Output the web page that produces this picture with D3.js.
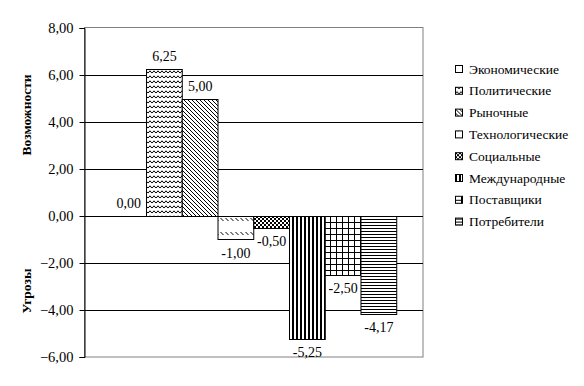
<!DOCTYPE html>
<html><head><meta charset="utf-8">
<script src="https://cdn.jsdelivr.net/npm/d3@7"></script>
<style>body{margin:0;background:#fff}</style>
</head><body>
<svg id="c" width="584" height="386"></svg>
<script>
const categories = ["Экономические","Политические","Рыночные","Технологические","Социальные","Международные","Поставщики","Потребители"];
const values = [0.00, 6.25, 5.00, -1.00, -0.50, -5.25, -2.50, -4.17];
const labels = ["0,00","6,25","5,00","-1,00","-0,50","-5,25","-2,50","-4,17"];
const yTicks = [8,6,4,2,0,-2,-4,-6];
const patternIds = ["p0","p1","p2","p3","p4","p5","p6","p7"];

const svg = d3.select("#c");
const font = "'Liberation Serif','Times New Roman',serif";
const L = 84.5, R = 423, T = 28, B = 357;
const y = d3.scaleLinear().domain([-6,8]).range([B,T]);
const x = d3.scaleBand().domain(categories).range([L,R]).paddingInner(0).paddingOuter(0.735);

// patterns
const defs = svg.append("defs");
function pat(id,w,h){return defs.append("pattern").attr("id",id).attr("patternUnits","userSpaceOnUse").attr("width",w).attr("height",h);}
pat("p0",4,4).append("rect").attr("width",4).attr("height",4).attr("fill","#fff");
{const p=pat("p1",4,5);p.append("rect").attr("width",4).attr("height",5).attr("fill","#fff");
 p.append("path").attr("d","M0,3.2 L2,0.8 L4,3.2").attr("fill","none").attr("stroke","#000").attr("stroke-width",1);}
{const p=pat("p2",4,4);p.append("rect").attr("width",4).attr("height",4).attr("fill","#fff");
 p.append("path").attr("d","M-1,-1 L5,5 M-1,3 L1,5 M3,-1 L5,1").attr("stroke","#000").attr("stroke-width",1);}
{const p=pat("p3",5,14);p.append("rect").attr("width",5).attr("height",14).attr("fill","#fff");
 p.append("path").attr("d","M0.5,8 L3.5,11").attr("stroke","#000").attr("stroke-width",1);}
{const p=pat("p4",4,4);p.append("rect").attr("width",4).attr("height",4).attr("fill","#fff");
 p.append("rect").attr("width",2).attr("height",2).attr("fill","#000");
 p.append("rect").attr("x",2).attr("y",2).attr("width",2).attr("height",2).attr("fill","#000");}
{const p=pat("p5",4,4);p.append("rect").attr("width",4).attr("height",4).attr("fill","#fff");
 p.append("rect").attr("width",2).attr("height",4).attr("fill","#000");}
{const p=pat("p6",6,6);p.append("rect").attr("width",6).attr("height",6).attr("fill","#fff");
 p.append("path").attr("d","M0,0.5 H6 M0.5,0 V6").attr("stroke","#000").attr("stroke-width",1);}
{const p=pat("p7",3,3);p.append("rect").attr("width",3).attr("height",3).attr("fill","#fff");
 p.append("path").attr("d","M0,0.5 H3").attr("stroke","#000").attr("stroke-width",1);}

// plot frame
svg.append("rect").attr("x",L).attr("y",T-0.5).attr("width",R-L).attr("height",B-T+0.5)
  .attr("fill","none").attr("stroke","#808080").attr("stroke-width",1);
// gridlines
svg.append("g").selectAll("line").data(yTicks.filter(d=>d!==8 && d!==-6)).join("line")
  .attr("x1",L).attr("x2",R).attr("y1",d=>Math.round(y(d))+0.5).attr("y2",d=>Math.round(y(d))+0.5)
  .attr("stroke","#000").attr("stroke-width",1);

// bars
svg.append("g").selectAll("rect").data(values).join("rect")
  .attr("x",(d,i)=>x(categories[i]))
  .attr("width",x.bandwidth())
  .attr("y",d=>Math.round(y(Math.max(0,d)))+0.5)
  .attr("height",d=>Math.abs(Math.round(y(d))-Math.round(y(0))))
  .attr("fill",(d,i)=>`url(#${patternIds[i]})`)
  .attr("stroke","#000").attr("stroke-width",1);

// y axis
const ax = svg.append("g").attr("transform",`translate(${L},0)`)
  .call(d3.axisLeft(y).tickValues(yTicks).tickSize(5).tickFormat(d=>d3.format(".2f")(d).replace(".",",")));
ax.select(".domain").attr("stroke","#000");
ax.selectAll(".tick line").attr("stroke","#000");
ax.selectAll("text").attr("font-family",font).attr("font-size",14.5).attr("fill","#000").attr("x",-11);

// value labels
svg.append("g").selectAll("text").data(values).join("text")
  .attr("x",(d,i)=>x(categories[i])+x.bandwidth()/2)
  .attr("y",(d,i)=> d>=0 ? y(d)-8 : y(d)+18)
  .attr("text-anchor","middle").attr("font-family",font).attr("font-size",14).attr("fill","#000")
  .text((d,i)=>labels[i]);

// axis titles
svg.append("text").attr("transform","translate(31,115) rotate(-90)").attr("text-anchor","middle")
  .attr("font-family",font).attr("font-size",13.5).attr("font-weight","bold").text("Возможности");
svg.append("text").attr("transform","translate(31,291) rotate(-90)").attr("text-anchor","middle")
  .attr("font-family",font).attr("font-size",13.5).attr("font-weight","bold").text("Угрозы");

// legend
const lg = svg.append("g").selectAll("g").data(categories).join("g")
  .attr("transform",(d,i)=>`translate(455,${69+i*21.8})`);
lg.append("rect").attr("x",0.5).attr("y",-3.5).attr("width",7).attr("height",7)
  .attr("fill",(d,i)=>`url(#${patternIds[i]})`).attr("stroke","#000").attr("stroke-width",1);
lg.append("text").attr("x",14).attr("y",4.5).attr("font-family",font).attr("font-size",13.5).attr("fill","#000").text(d=>d);
</script>
</body></html>
